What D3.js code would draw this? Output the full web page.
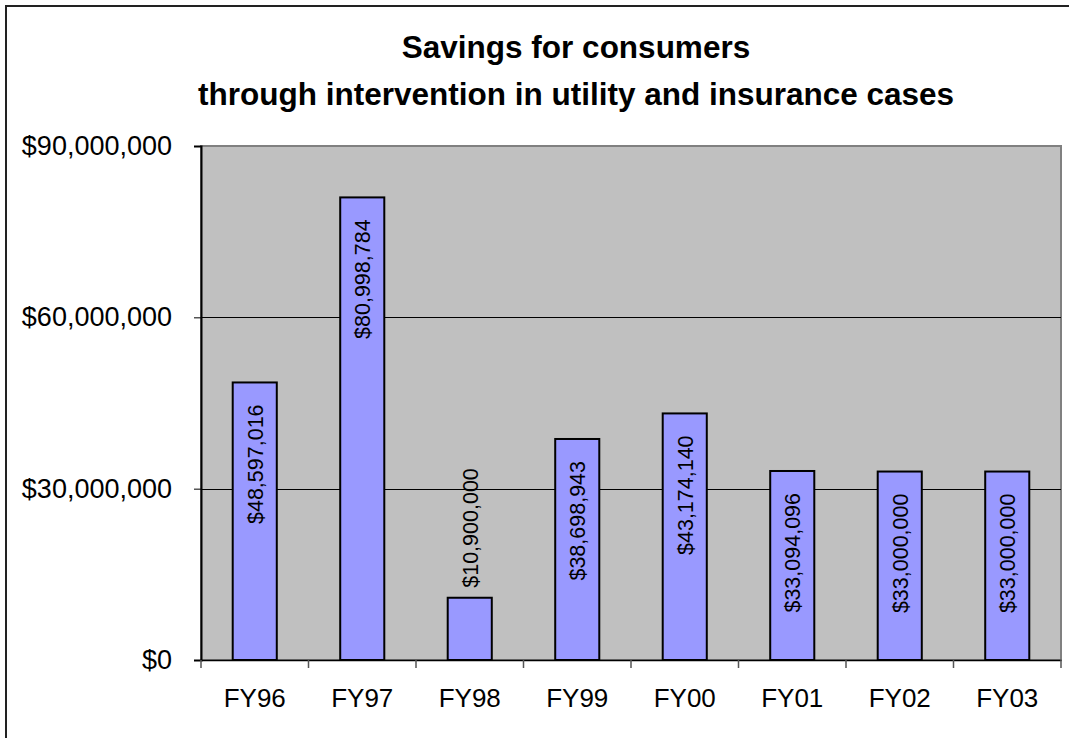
<!DOCTYPE html>
<html>
<head>
<meta charset="utf-8">
<script src="https://cdn.jsdelivr.net/npm/d3@7"></script>
<style>
  html, body { margin: 0; padding: 0; background: #fff; }
  svg { display: block; font-family: Arial, "Liberation Sans", sans-serif; }
</style>
</head>
<body>
<svg id="chart" width="1069" height="738"></svg>
<script>
// Savings per fiscal year (dollars)
const categories = ["FY96", "FY97", "FY98", "FY99", "FY00", "FY01", "FY02", "FY03"];
const savings = [48597016, 80998784, 10900000, 38698943, 43174140, 33094096, 33000000, 33000000];
const yTicks = [0, 30000000, 60000000, 90000000];
const titleLines = ["Savings for consumers", "through intervention in utility and insurance cases"];

const svg = d3.select("#chart");
const W = 1069, H = 738;
const plot = { left: 201, right: 1061, top: 146, bottom: 660 };

// outer chart frame
svg.append("rect")
  .attr("x", 6).attr("y", 6)
  .attr("width", W + 20).attr("height", H + 20)
  .attr("fill", "#fff")
  .attr("stroke", "#222").attr("stroke-width", 2);

// title
svg.append("g").selectAll("text")
  .data(titleLines)
  .join("text")
  .attr("x", 576)
  .attr("y", (d, i) => 58 + i * 47)
  .attr("text-anchor", "middle")
  .attr("font-size", 31.5)
  .attr("font-weight", "bold")
  .attr("fill", "#000")
  .text(d => d);

const x = d3.scaleBand()
  .domain(categories)
  .range([plot.left, plot.right])
  .paddingInner(0.59)
  .paddingOuter(0.295);

const xOuter = d3.scaleBand()
  .domain(categories)
  .range([plot.left, plot.right])
  .padding(0);

const y = d3.scaleLinear()
  .domain([0, 90000000])
  .range([plot.bottom, plot.top]);

// plot background
svg.append("rect")
  .attr("x", plot.left).attr("y", plot.top)
  .attr("width", plot.right - plot.left)
  .attr("height", plot.bottom - plot.top)
  .attr("fill", "#C0C0C0")
  .attr("stroke", "#808080").attr("stroke-width", 2);

// gridlines
svg.append("g").selectAll("line")
  .data(yTicks.filter(t => t > 0 && t < 90000000))
  .join("line")
  .attr("x1", plot.left).attr("x2", plot.right)
  .attr("y1", d => Math.round(y(d)) + 0.5).attr("y2", d => Math.round(y(d)) + 0.5)
  .attr("stroke", "#000").attr("stroke-width", 1);

// y axis
const fmt = d => "$" + d3.format(",")(d);
const yAxis = svg.append("g")
  .attr("transform", `translate(${plot.left},0)`)
  .call(d3.axisLeft(y).tickValues(yTicks).tickFormat(fmt).tickSize(7).tickPadding(22));
yAxis.select(".domain").attr("stroke", "#000").attr("stroke-width", 2);
yAxis.selectAll(".tick line").attr("stroke", "#000").attr("stroke-width", 1);
yAxis.selectAll(".tick text")
  .attr("font-size", 27)
  .attr("font-family", "Arial, 'Liberation Sans', sans-serif")
  .attr("fill", "#000");

// x axis: baseline and category boundary ticks
const xAxis = svg.append("g")
  .attr("transform", `translate(0,${plot.bottom})`)
  .call(d3.axisBottom(xOuter).tickSize(0).tickPadding(29));
xAxis.select(".domain").attr("stroke", "#000").attr("stroke-width", 1.5);
xAxis.selectAll(".tick text")
  .attr("font-size", 26)
  .attr("font-family", "Arial, 'Liberation Sans', sans-serif")
  .attr("fill", "#000");

const boundaries = categories.map(c => xOuter(c)).concat([plot.right]);
svg.append("g").selectAll("line")
  .data(boundaries)
  .join("line")
  .attr("x1", d => d).attr("x2", d => d)
  .attr("y1", plot.bottom).attr("y2", plot.bottom + 8)
  .attr("stroke", "#555").attr("stroke-width", 1.5);

// bars
svg.append("g").selectAll("rect")
  .data(categories)
  .join("rect")
  .attr("x", d => x(d))
  .attr("y", (d, i) => y(savings[i]))
  .attr("width", x.bandwidth())
  .attr("height", (d, i) => y(0) - y(savings[i]))
  .attr("fill", "#9999FF")
  .attr("stroke", "#000").attr("stroke-width", 2);

// value labels, rotated; inside the bar top when they fit, above otherwise
const labelLen = 128;
svg.append("g").selectAll("text")
  .data(categories)
  .join("text")
  .each(function (d, i) {
    const barTop = y(savings[i]);
    const barH = y(0) - barTop;
    const cx = x(d) + x.bandwidth() / 2;
    const inside = barH > labelLen + 30;
    const sel = d3.select(this)
      .attr("font-size", 21.5)
      .attr("fill", "#000")
      .attr("dy", "0.36em")
      .text(fmt(savings[i]));
    if (inside) {
      sel.attr("text-anchor", "end")
        .attr("transform", `translate(${cx},${barTop + 22}) rotate(-90)`);
    } else {
      sel.attr("text-anchor", "start")
        .attr("transform", `translate(${cx},${barTop - 10}) rotate(-90)`);
    }
  });
</script>
</body>
</html>
